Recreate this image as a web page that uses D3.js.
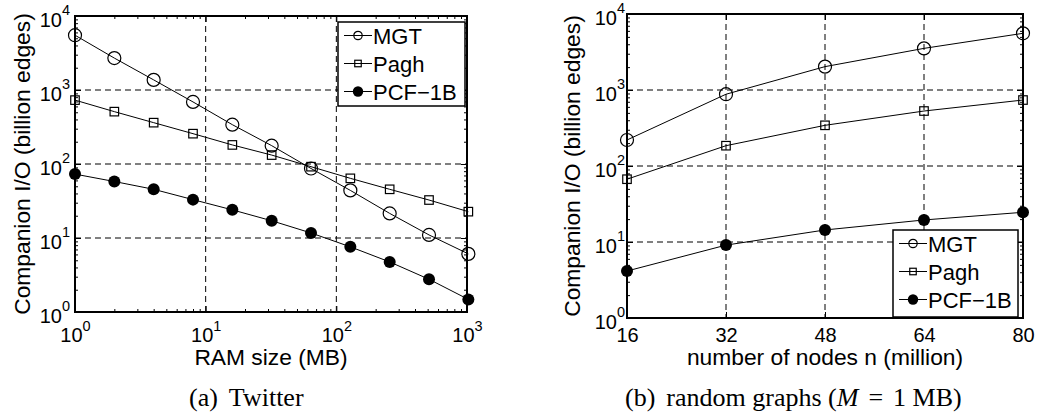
<!DOCTYPE html>
<html>
<head>
<meta charset="utf-8">
<script src="https://cdn.jsdelivr.net/npm/d3@7"></script>
<style>
  body { margin: 0; background: #fff; }
  svg { display: block; font-family: "Liberation Sans", Arial, sans-serif; }
  .grid line { stroke: #000; stroke-width: 1; stroke-dasharray: 6,4; }
  .tick line { stroke: #000; stroke-width: 1; }
</style>
</head>
<body>
<svg id="fig" width="1041" height="419"></svg>
<script>
// (a) Twitter: I/O against RAM size
var ramSizes = [1, 2, 4, 8, 16, 32, 64, 128, 256, 512, 1024];
var twitterMGT = [5500, 2700, 1370, 690, 340, 177, 87, 44, 21.5, 11, 6.1];
var twitterPagh = [730, 510, 362, 257, 181, 132, 92, 64, 45.5, 32.6, 22.7];
var twitterPCF = [73, 58, 45.5, 33, 24, 17.1, 11.7, 7.6, 4.75, 2.77, 1.48];

// (b) random graphs, M = 1 MB
var nodeCounts = [16, 32, 48, 64, 80];
var randomMGT = [220, 880, 2030, 3530, 5570];
var randomPagh = [67, 185, 343, 529, 738];
var randomPCF = [4.15, 9.1, 14.4, 19.5, 24.6];

var seriesNames = ["MGT", "Pagh", "PCF\u22121B"];
var markerKinds = ["circle", "square", "dot"];
var yMajorTicks = [1, 10, 100, 1000, 10000];
var ramTicks = [1, 10, 100, 1000];

var svg = d3.select("#fig");
svg.append("rect").attr("width", 1041).attr("height", 419).attr("fill", "#fff");

// replace a tick label with 10 + superscript exponent
function powLabel(sel, baseY, supDy) {
  sel.each(function(d) {
    var t = d3.select(this);
    t.text(null).attr("dy", null).attr("y", baseY);
    t.append("tspan").text("10");
    t.append("tspan").attr("dy", supDy).attr("font-size", 14.5)
      .text(Math.round(Math.log10(d)));
  });
}

function drawMarker(g, kind, cx, cy, big) {
  if (kind == "circle") {
    g.append("circle").attr("cx", cx).attr("cy", cy).attr("r", big ? 6.5 : 4.2)
      .attr("fill", "none").attr("stroke", "#000").attr("stroke-width", 1.2);
  } else if (kind == "square") {
    var s = big ? 8.5 : 6.5;
    g.append("rect").attr("x", cx - s / 2).attr("y", cy - s / 2).attr("width", s).attr("height", s)
      .attr("fill", "none").attr("stroke", "#000").attr("stroke-width", 1.2);
  } else {
    g.append("circle").attr("cx", cx).attr("cy", cy).attr("r", big ? 6 : 5.2)
      .attr("fill", "#000");
  }
}

function panel(cfg) {
  var w = cfg.right - cfg.left, h = cfg.bottom - cfg.top;
  var g = svg.append("g").attr("transform", "translate(" + cfg.left + "," + cfg.top + ")");
  var x = cfg.x.range([0, w]);
  var y = d3.scaleLog().domain([1, 10000]).range([h, 0]);

  // dashed grid
  var grid = g.append("g").attr("class", "grid");
  grid.selectAll(".gx").data(cfg.xTicks).enter().append("line")
    .attr("x1", d => x(d)).attr("x2", d => x(d)).attr("y1", 0).attr("y2", h);
  grid.selectAll(".gy").data(yMajorTicks.slice(1, -1)).enter().append("line")
    .attr("x1", 0).attr("x2", w).attr("y1", d => y(d)).attr("y2", d => y(d));

  // minor ticks on log axes
  var yMinor = y.ticks().filter(d => yMajorTicks.indexOf(d) < 0);
  g.append("g").call(d3.axisLeft(y).tickValues(yMinor).tickSize(-3).tickFormat(""));
  g.append("g").attr("transform", "translate(" + w + ",0)")
    .call(d3.axisRight(y).tickValues(yMinor).tickSize(-3).tickFormat(""));
  if (cfg.xLog) {
    var xMinor = x.ticks().filter(d => cfg.xTicks.indexOf(d) < 0);
    g.append("g").attr("transform", "translate(0," + h + ")")
      .call(d3.axisBottom(x).tickValues(xMinor).tickSize(-3).tickFormat(""));
    g.append("g").call(d3.axisTop(x).tickValues(xMinor).tickSize(-3).tickFormat(""));
  }

  // major axes
  var yAx = g.append("g").call(d3.axisLeft(y).tickValues(yMajorTicks).tickSize(-6).tickPadding(cfg.yPad));
  yAx.attr("font-size", 20).attr("font-family", null);
  powLabel(yAx.selectAll("text"), 10, -11.5);
  g.append("g").attr("transform", "translate(" + w + ",0)")
    .call(d3.axisRight(y).tickValues(yMajorTicks).tickSize(-6).tickFormat(""));

  var xAx = g.append("g").attr("transform", "translate(0," + h + ")")
    .call(d3.axisBottom(x).tickValues(cfg.xTicks).tickSize(-6).tickPadding(0));
  xAx.attr("font-size", 20).attr("font-family", null);
  if (cfg.xLog) powLabel(xAx.selectAll("text"), 30, -11);
  else xAx.selectAll("text").attr("dy", null).attr("y", 24);
  g.append("g").call(d3.axisTop(x).tickValues(cfg.xTicks).tickSize(-6).tickFormat(""));
  g.selectAll(".domain").remove();

  g.append("rect").attr("width", w).attr("height", h)
    .attr("fill", "none").attr("stroke", "#000").attr("stroke-width", 2);

  // series
  var line = d3.line().x(d => x(d[0])).y(d => y(d[1]));
  cfg.series.forEach(function(vals, i) {
    var pts = cfg.xs.map((v, j) => [v, vals[j]]);
    g.append("path").attr("d", line(pts)).attr("fill", "none")
      .attr("stroke", "#000").attr("stroke-width", 1);
    pts.forEach(p => drawMarker(g, markerKinds[i], x(p[0]), y(p[1]), true));
  });

  // legend
  var lg = svg.append("g").attr("transform", "translate(" + cfg.legend[0] + "," + cfg.legend[1] + ")");
  lg.append("rect").attr("width", cfg.legend[2]).attr("height", cfg.legend[3])
    .attr("fill", "#fff").attr("stroke", "#000").attr("stroke-width", 1.5);
  seriesNames.forEach(function(name, i) {
    var ly = 13.5 + i * 28;
    lg.append("line").attr("x1", 6).attr("x2", 34).attr("y1", ly).attr("y2", ly)
      .attr("stroke", "#000").attr("stroke-width", 1);
    drawMarker(lg, markerKinds[i], 20, ly, false);
    lg.append("text").attr("x", 35).attr("y", ly + 8).attr("font-size", 22).text(name);
  });

  // axis titles
  svg.append("text").attr("x", cfg.left + w / 2).attr("y", 365)
    .attr("text-anchor", "middle").attr("font-size", 22.8).text(cfg.xTitle);
  svg.append("text")
    .attr("transform", "translate(" + cfg.yTitleX + "," + (cfg.top + h / 2) + ") rotate(-90)")
    .attr("text-anchor", "middle").attr("font-size", 22.8)
    .text("Companion I/O (billion edges)");
}

panel({
  left: 75, right: 467, top: 16, bottom: 312,
  x: d3.scaleLog().domain([1, 1000]), xLog: true, xTicks: ramTicks,
  xs: ramSizes, series: [twitterMGT, twitterPagh, twitterPCF],
  yPad: 5, yTitleX: 30,
  legend: [338, 22, 127, 84],
  xTitle: "RAM size (MB)"
});

panel({
  left: 627, right: 1023, top: 14, bottom: 318,
  x: d3.scaleLinear().domain([16, 80]), xLog: false, xTicks: nodeCounts,
  xs: nodeCounts, series: [randomMGT, randomPagh, randomPCF],
  yPad: 2, yTitleX: 580,
  legend: [893, 230, 125, 87],
  xTitle: "number of nodes n (million)"
});

// captions
var serif = "'Liberation Serif', 'Times New Roman', serif";
var capA = svg.append("text").attr("x", 189).attr("y", 406)
  .attr("font-family", serif).attr("font-size", 26);
capA.append("tspan").text("(a)");
capA.append("tspan").attr("dx", 11).text("Twitter");

var capB = svg.append("text").attr("x", 625).attr("y", 406)
  .attr("font-family", serif).attr("font-size", 26);
capB.append("tspan").text("(b)");
capB.append("tspan").attr("dx", 11).text("random graphs (");
capB.append("tspan").attr("font-style", "italic").text("M");
capB.append("tspan").attr("dx", 10).text("=");
capB.append("tspan").attr("dx", 10).text("1 MB)");
</script>
</body>
</html>
